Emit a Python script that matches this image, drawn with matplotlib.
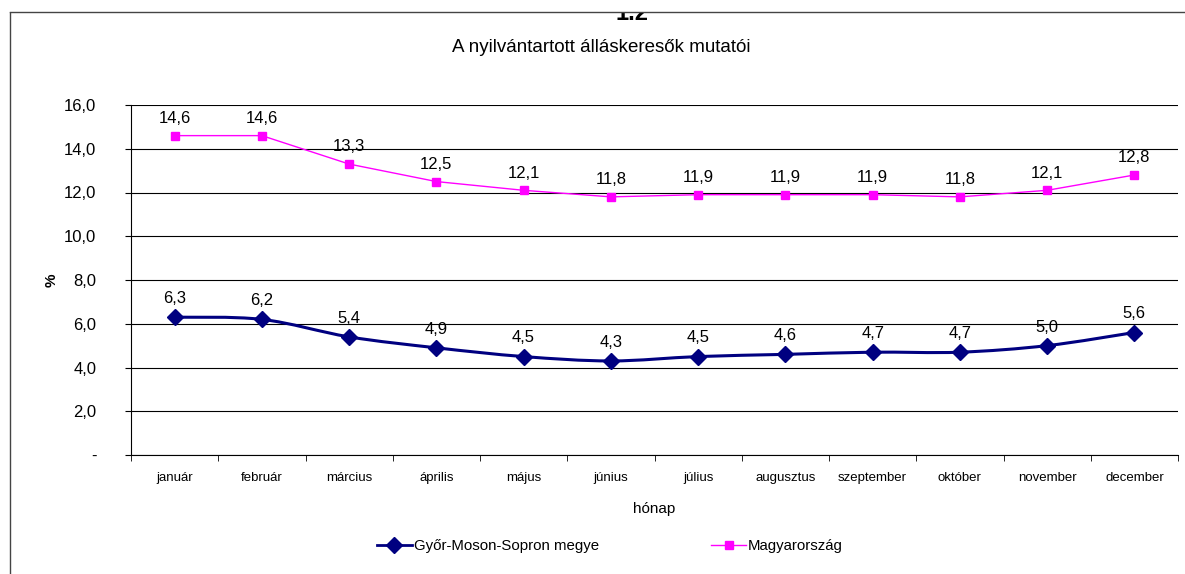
import matplotlib.pyplot as plt
from matplotlib.patches import Rectangle, PathPatch
from matplotlib.lines import Line2D
from matplotlib.path import Path

plt.rcParams['font.family'] = ['Liberation Sans', 'DejaVu Sans']

months = ['január', 'február', 'március', 'április', 'május', 'június',
          'július', 'augusztus', 'szeptember', 'október', 'november', 'december']
gyor = [6.3, 6.2, 5.4, 4.9, 4.5, 4.3, 4.5, 4.6, 4.7, 4.7, 5.0, 5.6]
hungary = [14.6, 14.6, 13.3, 12.5, 12.1, 11.8, 11.9, 11.9, 11.9, 11.8, 12.1, 12.8]
yticks = [0, 2, 4, 6, 8, 10, 12, 14, 16]

navy = '#000080'
magenta = '#ff00ff'


def smooth_path(xs, ys):
    # Excel-style smoothed line: cubic Bezier through every point
    pts = list(zip(xs, ys))
    n = len(pts)
    verts = [pts[0]]
    codes = [Path.MOVETO]
    for i in range(n - 1):
        p0 = pts[max(i - 1, 0)]
        p1 = pts[i]
        p2 = pts[i + 1]
        p3 = pts[min(i + 2, n - 1)]
        c1 = (p1[0] + (p2[0] - p0[0]) / 6, p1[1] + (p2[1] - p0[1]) / 6)
        c2 = (p2[0] - (p3[0] - p1[0]) / 6, p2[1] - (p3[1] - p1[1]) / 6)
        verts += [c1, c2, p2]
        codes += [Path.CURVE4] * 3
    return Path(verts, codes)


fig = plt.figure(figsize=(11.85, 5.74), dpi=100)
ax = fig.add_axes([131 / 1185, 1 - 455 / 574, (1178 - 131) / 1185, 350 / 574])

x = list(range(len(months)))
ax.plot(x, hungary, color=magenta, lw=1, marker='s', ms=6, zorder=3)
ax.add_patch(PathPatch(smooth_path(x, gyor), facecolor='none', edgecolor=navy,
                       lw=2.2, zorder=3))
ax.plot(x, gyor, color=navy, ls='none', marker='D', ms=8.5, zorder=4)

for xi, v in zip(x, hungary):
    ax.annotate(f'{v:.1f}'.replace('.', ','), (xi, v), xytext=(0, 7),
                textcoords='offset points', ha='center', va='bottom', fontsize=12)
for xi, v in zip(x, gyor):
    ax.annotate(f'{v:.1f}'.replace('.', ','), (xi, v), xytext=(0, 8),
                textcoords='offset points', ha='center', va='bottom', fontsize=12)

ax.set_xlim(-0.5, len(months) - 0.5)
ax.set_ylim(0, 16)
ax.set_yticks(yticks)
ax.set_yticklabels(['-' if t == 0 else f'{t:.1f}'.replace('.', ',') for t in yticks],
                   fontsize=12)
ax.set_xticks(x)
ax.set_xticklabels(months, fontsize=9.5)
ax.set_xticks([i - 0.5 for i in range(len(months) + 1)], minor=True)
ax.tick_params(axis='x', which='major', length=0, pad=12)
ax.tick_params(axis='x', which='minor', length=4, direction='out')
ax.tick_params(axis='y', length=4, direction='out', pad=21)
ax.grid(axis='y', color='black', lw=0.8)
ax.set_axisbelow(True)
for s in ['top', 'right']:
    ax.spines[s].set_visible(False)
ax.set_xlabel('hónap', fontsize=11, labelpad=13)
ax.set_ylabel('%', fontsize=11, fontweight='bold', labelpad=4)

fig.text(601 / 1185, 1 - 48 / 574, 'A nyilvántartott álláskeresők mutatói',
         ha='center', va='center', fontsize=13.5)

# heading of the page, mostly hidden behind the frame
fig.text(632 / 1185, 1 - 20 / 574, '1.2', ha='center', va='baseline',
         fontsize=17, fontweight='bold')
fig.patches.append(Rectangle((0, 1 - 12 / 574), 1, 12 / 574, transform=fig.transFigure,
                             facecolor='white', edgecolor='none', zorder=5))

# chart frame
fig.lines.append(Line2D([10 / 1185, 10 / 1185], [0, 1 - 12 / 574], transform=fig.transFigure,
                        color='#444444', lw=1))
fig.lines.append(Line2D([10 / 1185, 1], [1 - 12 / 574, 1 - 12 / 574], transform=fig.transFigure,
                        color='#444444', lw=1, zorder=6))

handles = [Line2D([], [], color=navy, lw=2, marker='D', ms=8.5),
           Line2D([], [], color=magenta, lw=1, marker='s', ms=6)]
fig.legend(handles, ['Győr-Moson-Sopron megye', 'Magyarország'], loc='center',
           bbox_to_anchor=(610 / 1185, 1 - 546 / 574), ncol=2, frameon=False,
           fontsize=10.8, columnspacing=7.5, handlelength=2.3, handletextpad=0.15)

fig.savefig('out.png', dpi=100)
